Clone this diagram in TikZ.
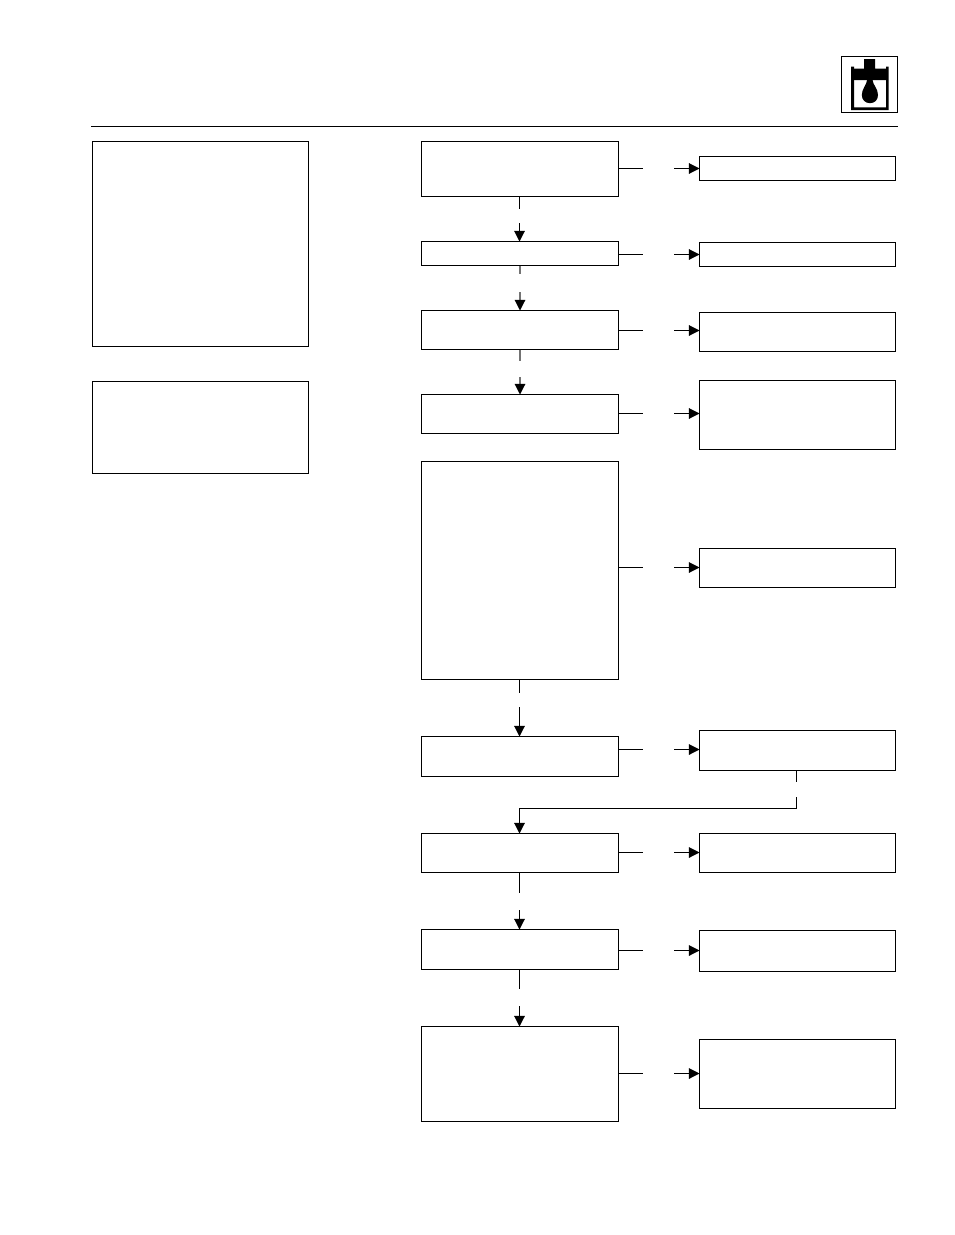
\documentclass[tikz,border=0pt]{standalone}
\usetikzlibrary{arrows.meta}
\tikzset{
  px/.style={x=0.75pt,y=-0.75pt},
  bx/.style={draw=black,line width=0.8pt,fill=white,inner sep=0pt,outer sep=0pt},
  ln/.style={draw=black,line width=0.8pt},
  ar/.style={ln,-{Triangle[length=8pt,width=8pt,color=black]}},
  lg/.style={ln,draw=black!55}
}
\newcommand{\boxat}[5]{\node[bx,minimum width=#4*0.75pt-#2*0.75pt,minimum height=#5*0.75pt-#3*0.75pt] (#1) at ({(#2+#4)/2},{(#3+#5)/2}) {};}
\begin{document}
\begin{tikzpicture}[px]
\useasboundingbox (0,0) rectangle (954,1235);
\fill[white] (0,0) rectangle (954,1235);
% header rule
\coordinate (ruleL) at (91,126.5);
\coordinate (ruleR) at (897.5,126.5);
\draw[ln] (ruleL) -- (ruleR);
% icon
\boxat{icon}{841.5}{56.5}{897.5}{112.5}
\fill[black] (851,66.7) -- (854,66.7) -- (854,107.3) -- (886,107.3) -- (886,66.7) -- (888.7,66.7) -- (888.7,110) -- (851,110) -- cycle;
\fill[black] (864,59) -- (875,59) -- (875,68.7) -- (886,68.7) -- (886,80) -- (854,80) -- (854,68.7) -- (864,68.7) -- cycle;
\fill[black] (867.3,79) -- (872.3,79) .. controls (873,85.5) and (878,88.5) .. (878,95) .. controls (878,100) and (874.5,103.2) .. (870,103.2) .. controls (865.5,103.2) and (861.8,100) .. (861.8,95) .. controls (861.8,88.5) and (866.7,85.5) .. (867.3,79) -- cycle;
% left boxes
\boxat{la}{92.5}{141.5}{308.5}{346.5}
\boxat{lb}{92.5}{381.5}{308.5}{473.5}
% centre column
\boxat{c1}{421.5}{141.5}{618.5}{196.5}
\boxat{c2}{421.5}{241.5}{618.5}{265.5}
\boxat{c3}{421.5}{310.5}{618.5}{349.5}
\boxat{c4}{421.5}{394.5}{618.5}{433.5}
\boxat{c5}{421.5}{461.5}{618.5}{679.5}
\boxat{c6}{421.5}{736.5}{618.5}{776.5}
\boxat{c7}{421.5}{833.5}{618.5}{872.5}
\boxat{c8}{421.5}{929.5}{618.5}{969.5}
\boxat{c9}{421.5}{1026.5}{618.5}{1121.5}
% right column
\boxat{r1}{699.5}{156.5}{895.5}{180.5}
\boxat{r2}{699.5}{242.5}{895.5}{266.5}
\boxat{r3}{699.5}{312.5}{895.5}{351.5}
\boxat{r4}{699.5}{380.5}{895.5}{449.5}
\boxat{r5}{699.5}{548.5}{895.5}{587.5}
\boxat{r6}{699.5}{730.5}{895.5}{770.5}
\boxat{r7}{699.5}{833.5}{895.5}{872.5}
\boxat{r8}{699.5}{930.5}{895.5}{971.5}
\boxat{r9}{699.5}{1039.5}{895.5}{1108.5}
% horizontal connectors with a gap
\foreach \i/\y in {1/168.5,2/254.5,3/330.5,4/413.5,5/567.5,6/749.5,7/852.5,8/950.5,9/1073.5}{
  \coordinate (ha\i) at (643,\y);
  \coordinate (hb\i) at (674,\y);
  \draw[ln] (c\i.east |- ha\i) -- (ha\i);
  \draw[ar] (hb\i) -- (r\i.west |- hb\i);
}
% vertical connectors with a gap
\coordinate (v1a) at (519.5,209); \coordinate (v1b) at (519.5,223);
\draw[ln] (c1.south -| v1a) -- (v1a);
\draw[ar] (v1b) -- (c2.north -| v1b);
\coordinate (v2a) at (520,274); \coordinate (v2b) at (520,292);
\draw[lg] (c2.south -| v2a) -- (v2a);
\draw[ar,draw=black!55] (v2b) -- (c3.north -| v2b);
\coordinate (v3a) at (520,361); \coordinate (v3b) at (520,377);
\draw[lg] (c3.south -| v3a) -- (v3a);
\draw[ar,draw=black!55] (v3b) -- (c4.north -| v3b);
\coordinate (v5a) at (519.5,693); \coordinate (v5b) at (519.5,707);
\draw[ln] (c5.south -| v5a) -- (v5a);
\draw[ar] (v5b) -- (c6.north -| v5b);
\coordinate (v6a) at (796.5,782); \coordinate (v6b) at (796.5,797);
\coordinate (v6c) at (796.5,808.5); \coordinate (v6d) at (519.5,808.5);
\draw[ln] (r6.south -| v6a) -- (v6a);
\draw[ar] (v6b) -- (v6c) -- (v6d) -- (c7.north -| v6d);
\coordinate (v7a) at (519.5,893); \coordinate (v7b) at (519.5,910);
\draw[ln] (c7.south -| v7a) -- (v7a);
\draw[ar] (v7b) -- (c8.north -| v7b);
\coordinate (v8a) at (519.5,989); \coordinate (v8b) at (519.5,1006);
\draw[ln] (c8.south -| v8a) -- (v8a);
\draw[ar] (v8b) -- (c9.north -| v8b);
\end{tikzpicture}
\end{document}
